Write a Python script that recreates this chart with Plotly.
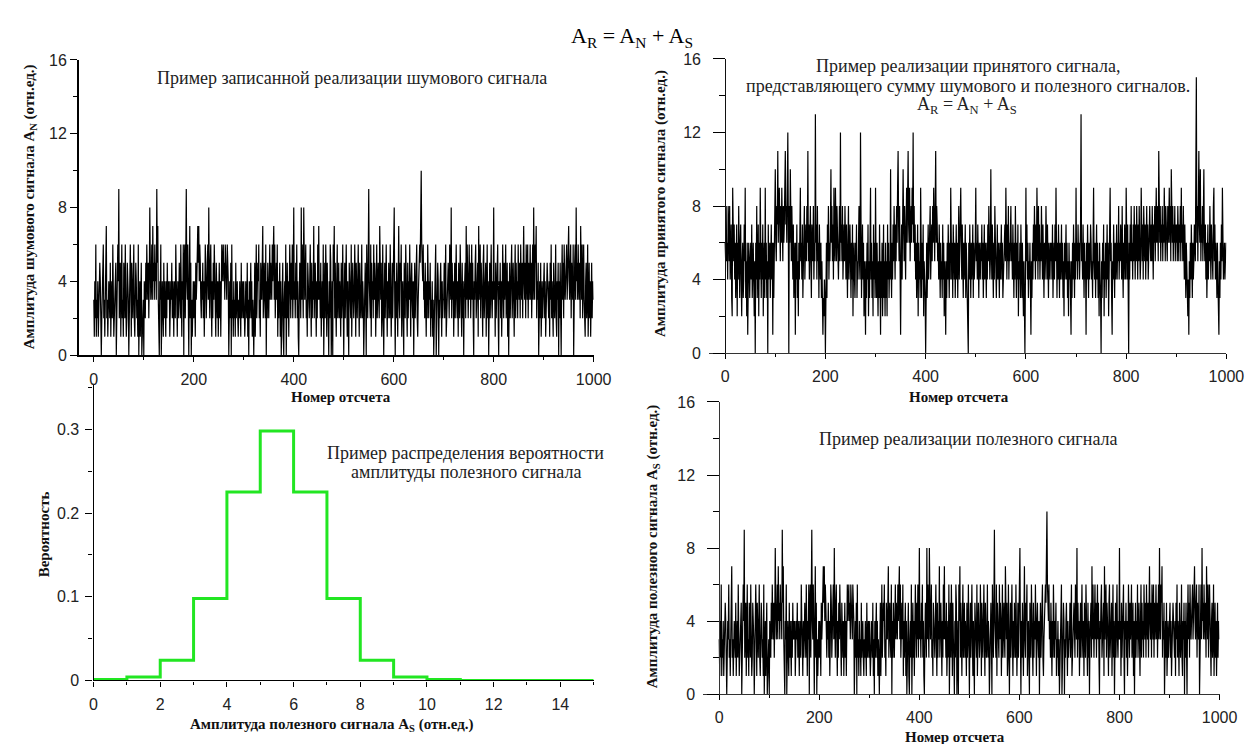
"""Noise / useful / received signal panels with the amplitude distribution."""

import plotly.graph_objects as go

W, H = 1260, 744

noise_amp = [
    3, 1, 4, 2, 6, 1, 3, 2, 4, 1, 3, 2, 5, 4, 1, 0, 2, 4, 3, 6, 2, 3, 1, 4, 5, 7, 2, 3, 1, 2, 4, 3, 2, 5, 1, 3, 4, 2, 6, 3, 1, 2, 4, 3, 5, 0, 2, 3, 6, 4,
    9, 2, 3, 5, 1, 4, 6, 2, 3, 1, 5, 4, 2, 6, 3, 1, 2, 5, 4, 3, 0, 3, 2, 6, 4, 1, 5, 3, 2, 4, 6, 2, 1, 3, 5, 4, 2, 3, 1, 6, 0, 2, 4, 1, 3, 5, 0, 2, 1, 3,
    0, 4, 3, 2, 5, 3, 6, 4, 3, 5, 2, 4, 8, 5, 3, 4, 6, 3, 7, 4, 5, 3, 6, 4, 5, 3, 9, 5, 7, 3, 2, 0, 4, 3, 6, 0, 2, 4, 3, 1, 5, 2, 4, 3, 1, 4, 2, 5, 3, 4,
    3, 4, 1, 2, 4, 3, 5, 2, 4, 3, 1, 4, 3, 2, 6, 4, 3, 1, 4, 2, 3, 5, 4, 2, 6, 3, 1, 4, 3, 6, 0, 5, 6, 2, 8, 9, 4, 3, 6, 1, 0, 4, 7, 2, 5, 0, 3, 1, 2, 4,
    2, 4, 3, 1, 5, 3, 4, 6, 7, 5, 7, 4, 6, 5, 3, 2, 4, 3, 5, 2, 4, 1, 3, 6, 5, 2, 3, 4, 6, 3, 8, 4, 2, 5, 6, 3, 1, 4, 2, 5, 3, 6, 4, 2, 1, 5, 3, 2, 4, 1,
    3, 5, 2, 4, 1, 3, 6, 4, 5, 6, 4, 5, 3, 6, 5, 4, 3, 6, 5, 4, 0, 3, 4, 2, 5, 0, 6, 2, 3, 1, 4, 2, 3, 1, 5, 2, 3, 4, 2, 1, 3, 2, 4, 3, 1, 5, 2, 3, 4, 2,
    4, 3, 1, 2, 4, 3, 2, 5, 1, 3, 0, 4, 2, 3, 5, 2, 4, 1, 3, 2, 0, 3, 5, 1, 4, 6, 2, 3, 5, 4, 6, 2, 3, 1, 5, 4, 3, 6, 7, 2, 4, 5, 3, 2, 6, 0, 4, 2, 5, 3,
    2, 4, 6, 3, 5, 4, 3, 6, 4, 5, 7, 3, 6, 2, 4, 5, 3, 6, 1, 4, 2, 3, 5, 1, 4, 0, 2, 3, 5, 1, 0, 3, 4, 2, 6, 0, 3, 5, 2, 4, 1, 3, 6, 4, 2, 5, 3, 6, 2, 4,
    8, 3, 4, 2, 5, 3, 6, 2, 4, 1, 0, 3, 5, 4, 2, 8, 3, 6, 4, 2, 8, 5, 3, 4, 6, 2, 3, 1, 5, 4, 3, 2, 4, 6, 3, 1, 5, 2, 4, 3, 7, 2, 4, 5, 3, 1, 4, 2, 6, 3,
    7, 3, 4, 2, 5, 1, 3, 4, 2, 6, 0, 3, 5, 2, 6, 4, 1, 5, 3, 2, 0, 4, 2, 6, 5, 0, 3, 4, 0, 6, 4, 7, 2, 5, 3, 1, 4, 6, 2, 3, 5, 2, 4, 3, 1, 5, 2, 3, 6, 4,
    0, 3, 5, 2, 4, 6, 3, 1, 4, 2, 0, 5, 3, 4, 2, 6, 1, 3, 5, 4, 2, 3, 6, 4, 1, 5, 3, 2, 4, 6, 3, 1, 5, 4, 2, 3, 6, 2, 4, 3, 0, 2, 4, 5, 3, 0, 6, 3, 2, 5,
    9, 4, 3, 2, 6, 1, 5, 3, 4, 2, 6, 3, 5, 4, 1, 3, 6, 2, 4, 5, 3, 2, 7, 4, 3, 5, 1, 2, 6, 4, 0, 3, 5, 2, 4, 6, 3, 1, 4, 2, 5, 3, 2, 6, 4, 1, 3, 5, 2, 4,
    6, 8, 3, 0, 4, 2, 5, 3, 1, 4, 7, 3, 2, 5, 4, 6, 1, 3, 4, 2, 0, 5, 3, 2, 6, 4, 3, 1, 5, 2, 4, 3, 6, 2, 1, 4, 5, 3, 2, 4, 0, 3, 5, 2, 4, 3, 6, 2, 1, 3,
    4, 5, 6, 5, 7, 10, 6, 5, 4, 6, 3, 4, 2, 5, 3, 1, 4, 2, 6, 3, 2, 4, 3, 5, 1, 3, 2, 4, 1, 3, 0, 2, 4, 3, 6, 0, 3, 2, 5, 4, 0, 3, 2, 4, 5, 3, 1, 4, 2, 3,
    3, 5, 2, 4, 6, 1, 3, 2, 4, 5, 3, 2, 6, 4, 3, 8, 2, 5, 3, 4, 1, 3, 5, 2, 4, 6, 3, 2, 4, 1, 5, 3, 2, 6, 4, 3, 1, 5, 2, 4, 0, 3, 4, 5, 2, 7, 3, 6, 4, 2,
    4, 6, 3, 5, 2, 4, 6, 3, 5, 2, 0, 4, 3, 5, 6, 2, 4, 3, 5, 1, 7, 3, 4, 6, 2, 5, 4, 3, 1, 5, 6, 2, 4, 3, 5, 1, 3, 6, 2, 4, 0, 3, 5, 2, 4, 6, 3, 2, 4, 3,
    8, 3, 4, 1, 5, 2, 4, 3, 6, 2, 0, 4, 3, 5, 2, 4, 1, 3, 6, 4, 2, 5, 3, 4, 6, 2, 3, 5, 1, 4, 0, 3, 5, 2, 4, 3, 6, 2, 4, 5, 3, 1, 4, 6, 2, 5, 3, 4, 2, 6,
    4, 3, 5, 2, 6, 4, 3, 5, 2, 6, 7, 4, 3, 5, 2, 6, 4, 3, 6, 2, 5, 3, 4, 6, 3, 5, 2, 4, 6, 3, 8, 4, 3, 6, 5, 7, 2, 4, 3, 5, 0, 3, 4, 2, 5, 1, 3, 4, 2, 3,
    3, 5, 2, 4, 1, 3, 2, 5, 4, 3, 2, 4, 1, 5, 3, 6, 2, 4, 3, 1, 5, 4, 2, 3, 6, 2, 1, 4, 3, 5, 0, 4, 2, 5, 3, 0, 4, 6, 3, 5, 2, 6, 4, 3, 5, 4, 6, 3, 5, 4,
    7, 4, 3, 5, 6, 2, 5, 4, 3, 6, 0, 4, 5, 6, 3, 8, 4, 5, 3, 6, 4, 3, 5, 2, 7, 4, 3, 6, 2, 4, 6, 3, 2, 1, 4, 5, 2, 3, 6, 1, 3, 5, 2, 4, 1, 3, 5, 2, 4, 3,
]

# useful signal A_S: in the picture its trace is the same as the noise trace
signal_amp = list(noise_amp)

# received signal A_R = A_N + A_S (top-right panel)
received_amp = [
    6, 5, 8, 5, 6, 4, 8, 7, 5, 8, 4, 6, 7, 3, 2, 9, 6, 5, 7, 4, 6, 3, 5, 7, 2, 6, 4, 8, 5, 3, 6, 7, 4, 2, 5, 6, 3, 4, 7, 5, 9, 3, 5, 2, 6, 1, 4, 6, 5, 3,
    5, 6, 4, 7, 3, 5, 6, 4, 2, 5, 0, 6, 4, 8, 3, 5, 7, 2, 6, 4, 9, 5, 3, 6, 4, 7, 2, 5, 6, 3, 9, 4, 6, 3, 5, 0, 7, 4, 5, 6, 3, 5, 7, 4, 6, 1, 6, 3, 5, 8,
    10, 6, 5, 8, 7, 11, 6, 8, 9, 7, 5, 8, 6, 9, 7, 5, 8, 6, 7, 9, 11, 7, 8, 6, 9, 12, 7, 0, 8, 6, 10, 7, 5, 8, 6, 4, 7, 3, 5, 6, 1, 6, 4, 7, 3, 5, 2, 6, 4, 7,
    9, 5, 6, 4, 7, 3, 6, 5, 8, 4, 6, 7, 5, 8, 6, 11, 5, 7, 4, 6, 8, 5, 3, 7, 6, 5, 8, 4, 6, 5, 13, 6, 7, 4, 8, 5, 6, 3, 7, 5, 4, 6, 3, 5, 2, 1, 3, 2, 4, 3,
    0, 4, 6, 3, 7, 5, 8, 4, 6, 5, 7, 10, 6, 8, 5, 7, 4, 9, 6, 5, 9, 7, 5, 8, 6, 7, 4, 6, 8, 5, 12, 6, 7, 5, 8, 4, 6, 7, 5, 8, 6, 4, 7, 5, 3, 6, 8, 4, 5, 7,
    5, 3, 6, 4, 7, 2, 5, 6, 4, 3, 6, 5, 7, 3, 5, 4, 6, 8, 5, 4, 12, 6, 3, 5, 7, 4, 6, 2, 5, 4, 1, 5, 3, 6, 4, 7, 2, 5, 3, 6, 9, 4, 6, 3, 5, 2, 7, 4, 6, 3,
    9, 5, 3, 6, 4, 2, 5, 3, 7, 4, 1, 5, 3, 6, 2, 4, 7, 3, 5, 2, 6, 3, 5, 2, 7, 4, 6, 3, 5, 4, 10, 5, 3, 6, 4, 7, 5, 8, 6, 4, 7, 5, 8, 6, 9, 11, 7, 5, 8, 6,
    1, 5, 7, 4, 6, 10, 7, 5, 8, 6, 4, 7, 9, 6, 8, 11, 7, 6, 9, 5, 7, 8, 6, 9, 7, 12, 6, 8, 5, 7, 4, 6, 3, 5, 7, 2, 6, 4, 5, 3, 9, 5, 3, 6, 4, 7, 2, 5, 4, 3,
    0, 4, 6, 3, 5, 7, 4, 6, 5, 8, 4, 6, 7, 5, 8, 6, 9, 7, 5, 8, 11, 6, 8, 7, 5, 6, 4, 7, 5, 3, 6, 4, 5, 3, 7, 4, 6, 2, 5, 4, 1, 5, 3, 6, 4, 7, 5, 3, 6, 4,
    9, 5, 4, 6, 3, 7, 5, 4, 6, 3, 5, 7, 4, 6, 3, 5, 8, 4, 6, 5, 9, 6, 4, 7, 5, 3, 6, 4, 5, 7, 3, 6, 4, 5, 2, 0, 6, 4, 7, 5, 3, 6, 4, 5, 7, 3, 6, 4, 5, 6,
    9, 5, 6, 4, 7, 5, 3, 6, 5, 4, 6, 5, 7, 4, 6, 3, 5, 7, 4, 6, 5, 3, 6, 4, 7, 5, 8, 6, 4, 5, 10, 6, 4, 7, 5, 3, 6, 4, 8, 5, 6, 3, 5, 7, 4, 6, 5, 3, 6, 4,
    5, 7, 4, 6, 3, 5, 4, 6, 7, 5, 9, 6, 4, 7, 5, 8, 4, 6, 5, 7, 8, 5, 6, 4, 7, 5, 3, 6, 4, 8, 5, 3, 6, 4, 7, 2, 5, 4, 6, 3, 7, 5, 3, 6, 4, 2, 5, 3, 0, 4,
    9, 5, 7, 4, 6, 3, 5, 4, 6, 2, 1, 5, 3, 6, 4, 7, 5, 8, 6, 4, 7, 5, 9, 6, 4, 8, 5, 7, 4, 6, 5, 8, 6, 4, 7, 5, 3, 6, 4, 5, 8, 6, 4, 7, 5, 3, 6, 5, 4, 6,
    5, 6, 4, 7, 3, 5, 6, 4, 7, 5, 9, 5, 3, 6, 4, 7, 5, 3, 6, 4, 5, 7, 4, 6, 3, 5, 2, 6, 4, 5, 7, 4, 6, 3, 5, 2, 6, 4, 5, 3, 1, 5, 3, 6, 4, 7, 5, 3, 6, 4,
    9, 5, 6, 4, 7, 5, 6, 4, 5, 7, 13, 5, 6, 4, 7, 5, 3, 6, 4, 5, 1, 6, 4, 7, 5, 3, 6, 4, 5, 7, 6, 4, 5, 3, 7, 9, 5, 4, 6, 3, 5, 7, 4, 6, 3, 5, 2, 6, 4, 3,
    0, 5, 3, 6, 4, 7, 2, 5, 4, 6, 3, 5, 7, 4, 6, 2, 5, 4, 9, 5, 6, 3, 1, 5, 4, 7, 5, 3, 6, 4, 5, 7, 4, 6, 5, 8, 4, 6, 5, 7, 6, 4, 8, 5, 3, 6, 4, 7, 5, 4,
    9, 6, 4, 7, 5, 0, 6, 4, 7, 5, 8, 5, 6, 4, 7, 5, 8, 6, 4, 7, 5, 8, 6, 4, 7, 5, 8, 6, 4, 5, 9, 6, 5, 7, 4, 8, 6, 5, 7, 4, 6, 8, 5, 7, 4, 6, 5, 8, 6, 5,
    7, 5, 8, 6, 4, 7, 6, 8, 5, 7, 9, 6, 8, 7, 5, 11, 7, 6, 8, 5, 7, 6, 8, 5, 7, 6, 9, 7, 5, 8, 6, 7, 5, 8, 6, 7, 9, 6, 8, 5, 10, 7, 6, 8, 5, 7, 6, 8, 5, 7,
    6, 7, 5, 8, 6, 5, 7, 6, 8, 5, 9, 6, 7, 5, 8, 6, 4, 7, 5, 3, 6, 4, 5, 2, 4, 1, 5, 3, 6, 4, 7, 5, 3, 6, 4, 5, 7, 6, 5, 8, 15, 6, 8, 5, 9, 11, 7, 6, 10, 5,
    7, 6, 8, 5, 7, 10, 6, 5, 7, 4, 6, 3, 5, 7, 4, 6, 5, 8, 6, 4, 7, 5, 6, 4, 8, 9, 5, 7, 4, 6, 5, 3, 6, 4, 2, 1, 5, 3, 6, 4, 7, 5, 9, 6, 4, 5, 6, 4, 5, 6,
]

# probability distribution of the useful signal amplitude, unit bins 0..15
hist_edges = list(range(16))
hist_prob = [0.001, 0.004, 0.024, 0.098, 0.225, 0.298, 0.225, 0.098,
             0.024, 0.004, 0.001, 0.0, 0.0, 0.0, 0.0]
prob_ticks = [0, 0.1, 0.2, 0.3]
prob_ticktext = ["0", "0.1", "0.2", "0.3"]

SERIF = "Liberation Serif"
SANS = "Liberation Sans"
tick_font = dict(family=SANS, size=16, color="#222")


def px(x):
    return x / W


def py(y):
    return 1 - y / H


fig = go.Figure()
line_kw = dict(mode="lines", line=dict(color="black", width=1.2), hoverinfo="skip", showlegend=False)
fig.add_trace(go.Scatter(x=list(range(len(noise_amp))), y=noise_amp, xaxis="x", yaxis="y", **line_kw))
fig.add_trace(go.Scatter(x=list(range(len(received_amp))), y=received_amp, xaxis="x2", yaxis="y2", **line_kw))
fig.add_trace(go.Scatter(
    x=hist_edges, y=hist_prob + [hist_prob[-1]], mode="lines", line_shape="hv",
    line=dict(color="#22e622", width=3), xaxis="x3", yaxis="y3", hoverinfo="skip", showlegend=False,
))
fig.add_trace(go.Scatter(x=list(range(len(signal_amp))), y=signal_amp, xaxis="x4", yaxis="y4", **line_kw))


def axis(**kw):
    base = dict(showgrid=False, zeroline=False, showline=True, linecolor="black", linewidth=1.2,
                ticks="outside", tickcolor="black", tickfont=tick_font, fixedrange=True)
    base.update(kw)
    return base


x_minor = dict(dtick=100, ticks="outside", ticklen=3, tickcolor="black")
y_minor = dict(dtick=2, ticks="outside", ticklen=4, tickcolor="black")

fig.update_layout(
    width=W, height=H,
    margin=dict(l=0, r=0, t=0, b=0),
    paper_bgcolor="white", plot_bgcolor="white",
    xaxis=axis(domain=[px(68), px(592)], range=[-30, 1000], anchor="y", tick0=0, dtick=200,
               ticklen=5, minor=x_minor, ticklabelstandoff=4, linewidth=1.6),
    yaxis=axis(domain=[py(347), py(45)], range=[0, 16], anchor="x", dtick=4,
               ticklen=7, minor=y_minor, linewidth=1.6),
    xaxis2=axis(domain=[px(709), px(1236)], range=[-33, 1000], anchor="y2", tick0=0, dtick=200,
                ticklen=5, minor=x_minor, ticklabelstandoff=4, linecolor="#333"),
    yaxis2=axis(domain=[py(345), py(44)], range=[0, 16], anchor="free", position=px(726), dtick=4,
                ticklen=12, minor=dict(y_minor, ticklen=6), ticklabelstandoff=9, linecolor="#111"),
    xaxis3=axis(domain=[px(83), px(592)], range=[0, 15], anchor="y3", dtick=2,
                ticklen=5, minor=dict(dtick=1, ticks="outside", ticklen=3, tickcolor="black"),
                ticklabelstandoff=4),
    yaxis3=axis(domain=[py(680), py(378)], range=[0, 0.3525], anchor="x3",
                tickvals=prob_ticks, ticktext=prob_ticktext, ticklen=7, ticklabelstandoff=3,
                minor=dict(dtick=0.05, ticks="outside", ticklen=4, tickcolor="black")),
    xaxis4=axis(domain=[px(703), px(1229)], range=[-33, 1000], anchor="y4", tick0=0, dtick=200,
                ticklen=5, minor=x_minor, ticklabelstandoff=4, linecolor="#333"),
    yaxis4=axis(domain=[py(694), py(395)], range=[0, 16], anchor="free", position=px(720), dtick=4,
                ticklen=12, minor=dict(y_minor, ticklen=6), ticklabelstandoff=9, linecolor="#333"),
)

notes = [
    # text, x px, y px, size
    ("Пример записанной реализации шумового сигнала", 346, 63, 18),
    ("Пример реализации принятого сигнала,", 973, 51, 18),
    ("представляющего сумму шумового и полезного сигналов.", 973, 72, 18),
    ("A<sub>R</sub> = A<sub>N</sub> + A<sub>S</sub>", 972, 92, 18),
    ("Пример распределения вероятности", 462, 447, 18),
    ("амплитуды полезного сигнала", 462, 467, 18),
    ("Пример реализации полезного сигнала", 974, 433, 18),
]
for text, x, y, size in notes:
    fig.add_annotation(text=text, x=px(x), y=py(y), xref="paper", yref="paper", showarrow=False,
                       xanchor="center", yanchor="middle", font=dict(family=SERIF, size=size, color="#222"))

fig.add_annotation(text="A<sub>R</sub> = A<sub>N</sub> + A<sub>S</sub>", x=px(631), y=py(22),
                   xref="paper", yref="paper", showarrow=False, xanchor="center", yanchor="middle",
                   font=dict(family=SERIF, size=22, color="black"))

axis_titles = [
    # text, x px, y px, angle
    ("Номер отсчета", 335, 390, 0),
    ("Номер отсчета", 964, 390, 0),
    ("Амплитуда полезного сигнала A<sub>S</sub> (отн.ед.)", 326, 726, 0),
    ("Номер отсчета", 960, 738, 0),
    ("Амплитуда шумового сигнала A<sub>N</sub> (отн.ед.)", 18, 195, -90),
    ("Амплитуда принятого сигнала (отн.ед.)", 660, 192, -90),
    ("Вероятность", 32, 530, -90),
    ("Амплитуда полезного сигнала A<sub>S</sub> (отн.ед.)", 652, 543, -90),
]
for text, x, y, angle in axis_titles:
    fig.add_annotation(text=text, x=px(x), y=py(y), xref="paper", yref="paper", showarrow=False,
                       xanchor="center", yanchor="middle", textangle=angle,
                       font=dict(family=SERIF, size=15, color="#111", weight="bold"))

fig.write_html("out.html")
